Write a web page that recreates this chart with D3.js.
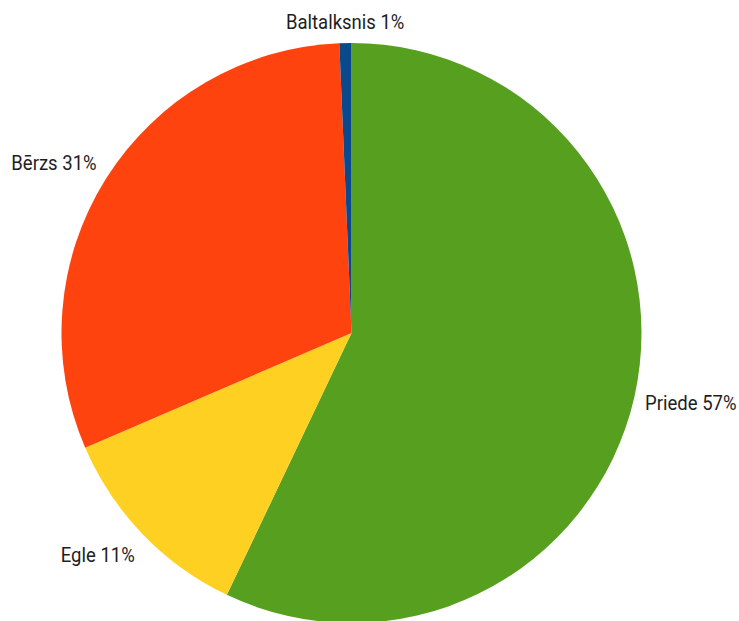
<!DOCTYPE html>
<html>
<head>
<meta charset="utf-8">
<script src="https://cdn.jsdelivr.net/npm/d3@7/dist/d3.min.js"></script>
<style>
  html, body { margin: 0; padding: 0; background: #fff; }
  svg { display: block; }
  .lbl { font-family: Roboto, "Liberation Sans", sans-serif; font-size: 19.5px; fill: #1e1e1e; }
</style>
</head>
<body>
<div id="chart"></div>
<script>
// Tree species share (%)
const species = ["Priede", "Egle", "Bērzs", "Baltalksnis"];
const shares = [57.07, 11.45, 30.81, 0.67];
const colors = ["#579f1e", "#fed022", "#ff430f", "#0a4a8c"];

const width = 739, height = 621;
const cx = 351.5, cy = 333, radius = 290;
const narrow = 0.95; // slight horizontal squeeze for a condensed label face

const svg = d3.select("#chart").append("svg")
  .attr("width", width).attr("height", height);

const data = species.map((name, i) => ({ name, value: shares[i], color: colors[i] }));

const pie = d3.pie().value(d => d.value).sort(null);
const arc = d3.arc().innerRadius(0).outerRadius(radius);
const arcs = pie(data);

const g = svg.append("g").attr("transform", `translate(${cx},${cy})`);

g.selectAll("path.slice")
  .data(arcs)
  .join("path")
  .attr("class", "slice")
  .attr("d", arc)
  .attr("fill", d => d.data.color);

// Labels sit outside the rim, aligned away from the pie
const labelRx = radius + 11, labelRy = radius + 30;
g.selectAll("g.lbl-wrap")
  .data(arcs)
  .join("g")
  .attr("class", "lbl-wrap")
  .each(function(d) {
    const a = (d.startAngle + d.endAngle) / 2;
    const s = Math.sin(a), c = Math.cos(a);
    const x = labelRx * s;
    let y = -labelRy * c;
    y = Math.max(y, -cy + 22);
    const anchor = Math.abs(s) < 0.1 ? "middle" : (s > 0 ? "start" : "end");
    d3.select(this)
      .attr("transform", `translate(${x},${y}) scale(${narrow},1)`)
      .append("text")
      .attr("class", "lbl")
      .attr("dy", "0.35em")
      .attr("text-anchor", anchor)
      .text(`${d.data.name} ${Math.round(d.data.value)}%`);
  });
</script>
</body>
</html>
